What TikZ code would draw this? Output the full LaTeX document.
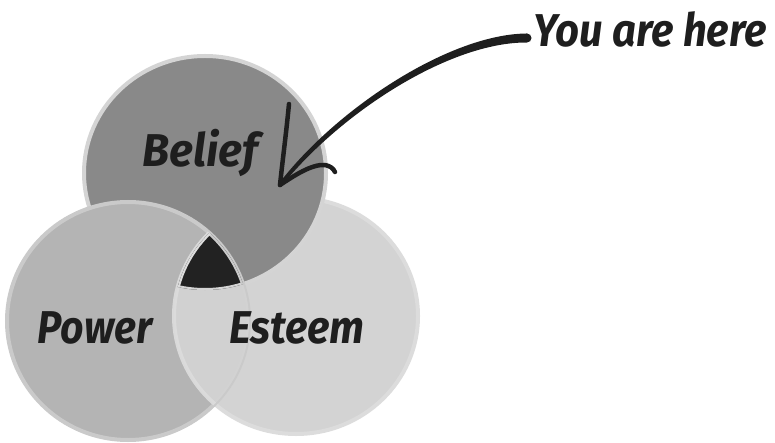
\documentclass[tikz,border=0pt]{standalone}
\usepackage{fontspec}
\setmainfont{Fira Sans}
\usepackage{graphicx}
\begin{document}
\begin{tikzpicture}[x=1pt,y=-1pt]
\definecolor{cbel}{HTML}{898989}
\definecolor{cpow}{HTML}{B4B4B4}
\definecolor{cest}{HTML}{D3D3D3}
\definecolor{rbel}{HTML}{D4D4D4}
\definecolor{rpow}{HTML}{CACACA}
\definecolor{rest}{HTML}{DCDCDC}
\definecolor{ink}{HTML}{1E1E1E}
\definecolor{core}{HTML}{222222}
\tikzset{
  ring/.style={line width=4pt},
  lbl/.style={text=ink, font=\fontsize{46}{50}\selectfont\bfseries\itshape, inner sep=0pt, anchor=base},
  brush/.style={draw=ink, line width=4.5pt, line cap=round, line join=round},
}
\useasboundingbox (0,0) rectangle (775,443);
\def\pBel{(205,173) ellipse [x radius=121, y radius=117]}
\def\pPow{(128,321) ellipse [x radius=121, y radius=119]}
\def\pEst{(296,316) ellipse [x radius=122, y radius=118]}
% Esteem (bottom of the stack)
\filldraw[fill=cest, draw=rest, ring] \pEst;
% Belief over Esteem
\filldraw[fill=cbel, draw=rbel, ring] \pBel;
% Power over Belief
\filldraw[fill=cpow, draw=rpow, ring] \pPow;
% Esteem over Power
\begin{scope}
  \clip \pPow;
  \filldraw[fill=cest, draw=rest, ring, opacity=0.95] \pEst;
\end{scope}
% triple intersection
\begin{scope}
  \clip \pBel;
  \clip \pPow;
  \fill[core] \pEst;
  \begin{scope}
    \clip \pEst;
    \draw[rbel, ring] \pBel;
    \draw[rpow, ring] \pPow;
    \draw[rest, ring] \pEst;
  \end{scope}
\end{scope}
% labels
\node[lbl] (belief) at (200,167) {\scalebox{0.97}[1]{Belief}};
\node[lbl] (power) at (95,343) {\scalebox{0.89}[1]{Power}};
\node[lbl] (esteem) at (297,343) {\scalebox{0.91}[1]{Esteem}};
\node[lbl] (here) at (650,47) {\scalebox{0.91}[1]{You are here}};
% arrow
\coordinate (tail) at (527,38);
\coordinate (tip) at (280,185);
\coordinate (barbA) at (289,104);
\coordinate (barbB) at (335,172);
\fill[ink] (527,33.5) .. controls (450,34) and (336.7,108.1) .. (278.6,183.9)
  -- (281.4,186.1) .. controls (341.3,111.9) and (450,42) .. (527,42.5) -- cycle;
\fill[ink] (tail) circle [radius=4.5];
\draw[brush] (barbA) .. controls (286,135) and (282,165) .. (tip);
\draw[brush] (tip) .. controls (295,175) and (312,164) .. (325,165) .. controls (330,166) and (333,168) .. (barbB);
\end{tikzpicture}
\end{document}
